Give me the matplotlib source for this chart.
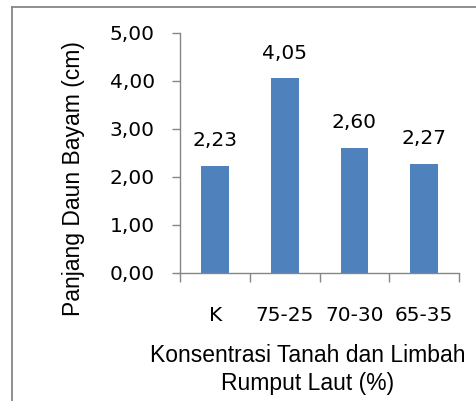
import matplotlib
matplotlib.use("Agg")
import matplotlib.pyplot as plt
from matplotlib.lines import Line2D

# data
categories = ["K", "75-25", "70-30", "65-35"]
values = [2.23, 4.05, 2.60, 2.27]
y_ticks = [0, 1, 2, 3, 4, 5]

bar_color = "#4F81BD"
grey = "#868686"

def comma(v):
    return f"{v:.2f}".replace(".", ",")

fig = plt.figure(figsize=(4.76, 4.01), dpi=100)
ax = fig.add_axes([0.379, 0.320, 0.585, 0.5985])

x = range(len(categories))
ax.bar(x, values, width=0.4, color=bar_color, zorder=2)

# value labels above bars
for xi, v in zip(x, values):
    ax.annotate(comma(v), (xi, v), xytext=(0, 14), textcoords="offset points",
                ha="center", va="baseline", fontsize=14.5, family="DejaVu Sans")

ax.set_xlim(-0.5, len(categories) - 0.5)
ax.set_ylim(0, 5)

for s in ["top", "right"]:
    ax.spines[s].set_visible(False)
for s in ["left", "bottom"]:
    ax.spines[s].set_color(grey)
    ax.spines[s].set_linewidth(1.0)

ax.set_yticks(y_ticks)
ax.set_yticklabels([comma(t) for t in y_ticks], fontsize=14.5, family="DejaVu Sans")
ax.tick_params(axis="y", length=5.5, width=1, color=grey, pad=13)

ax.set_xticks(list(x))
ax.set_xticklabels(categories, fontsize=14.5, family="DejaVu Sans")
ax.tick_params(axis="x", which="major", length=0, pad=24)
ax.set_xticks([i - 0.5 for i in range(len(categories) + 1)], minor=True)
ax.tick_params(axis="x", which="minor", length=6.5, width=1, color=grey)

# axis titles
fig.text(0.155, 0.555, "Panjang Daun Bayam (cm)", rotation=90,
         ha="center", va="center", fontsize=16.5, family="Liberation Sans")
fig.text(0.647, 0.078, "Konsentrasi Tanah dan Limbah\nRumput Laut (%)",
         ha="center", va="center", fontsize=16.5, family="Liberation Sans",
         linespacing=1.25)

# chart frame (clipped at right and bottom)
fig.add_artist(Line2D([12 / 476, 1.0], [1 - 7 / 401, 1 - 7 / 401],
                      transform=fig.transFigure, color=grey, lw=1.3))
fig.add_artist(Line2D([12 / 476, 12 / 476], [0.0, 1 - 7 / 401],
                      transform=fig.transFigure, color=grey, lw=1.3))

fig.savefig("out.png", dpi=100)
